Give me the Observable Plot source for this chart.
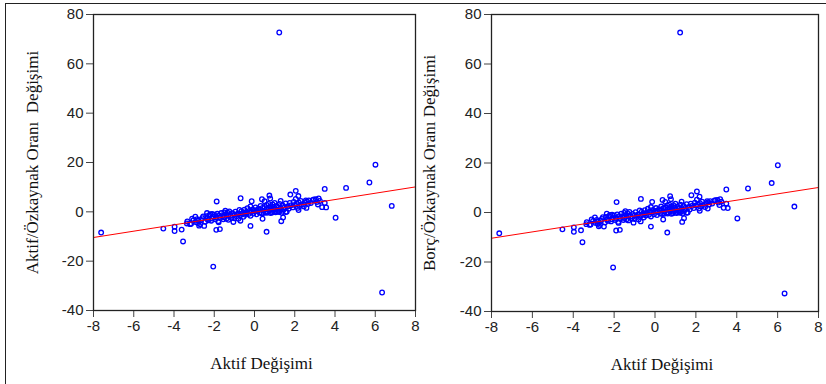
<!DOCTYPE html>
<html><head><meta charset="utf-8">
<script src="https://cdn.jsdelivr.net/npm/d3@7"></script>
<script src="https://cdn.jsdelivr.net/npm/@observablehq/plot@0.6"></script>
<style>
body{margin:0;background:#fff;}
#wrap{position:relative;width:826px;height:384px;overflow:hidden;background:#fff;}
#border{position:absolute;left:5px;top:3px;width:900px;height:500px;border-top:1.5px solid #222;border-left:1.5px solid #222;}
.panel{position:absolute;top:0;}
.panel svg{overflow:visible;}
.panel text{white-space:pre;}
</style>
</head><body>
<div id="wrap"><div id="border"></div><div id="p1" class="panel" style="left:0px"></div><div id="p2" class="panel" style="left:410px"></div></div>
<script>
// Aktif Değişimi (x) and Oran Değişimi (y)
const aktifDegisimi = [
-7.62,-4.53,-3.97,-3.97,-3.62,-3.55,-2.05,-3.34,-3.2,-3.15,-2.94,-1.88,-1.9,-1.72,-0.69,-0.14,-0.2,0.4,0.6,0.74,0.37,1.78,2.05,2.18,1.33,1.42,3.49,4.55,5.71,6.01,6.82,4.03,3.56,3.36,3.49,3.19,2.95,3.05,2.61,2.58,2.19,1.23,6.34,
-2.78,-2.7,-2.75,-2.8,-2.6,-2.5,-2.36,-2.3,-2.2,-2.1,-3.03,-2.9,-3.36,
-2.0,-1.95,-1.9,-1.85,-1.8,-1.78,-1.75,-1.7,-1.65,-1.6,-1.55,-1.5,-1.5,-1.45,-1.4,-1.4,-1.35,-1.3,-1.3,-1.25,-1.2,-1.15,-1.1,-1.05,-1.0,-1.0,-0.95,-0.9,-0.85,-0.8,-0.8,-0.75,-0.7,-0.7,-0.65,-0.6,-0.55,-0.5,-0.5,-0.45,-0.4,-0.35,-0.3,-0.25,-0.2,-0.2,-0.15,-0.1,-0.05,0.0,0.05,0.1,0.1,0.15,0.2,0.25,0.3,0.3,0.35,0.4,0.45,0.5,0.5,0.55,0.6,0.6,0.65,0.7,0.7,0.75,0.78,0.8,0.8,0.85,0.9,0.9,0.95,1.0,1.0,1.05,1.1,1.15,1.2,1.2,1.25,1.3,1.3,1.35,1.4,1.45,1.5,1.55,1.6,1.65,1.7,1.75,1.8,1.9,1.95,2.0,2.05,2.1,2.15,2.2,2.25,2.3,2.35,2.45,2.5,2.55,2.65,2.7,2.8,2.9,3.1,3.25,3.15,
-2.45,-2.4,-2.35,-2.25,-2.15,-2.1,-2.05,-2.65,-2.55,-2.85,-3.1,
0.45,0.62,0.88,1.12,1.22,1.38,1.55
];
const oranDegisimi = [
-8.4,-6.8,-6.0,-7.8,-7.2,-12.0,-22.2,-3.9,-5.0,-4.8,-2.0,4.2,-7.3,-7.0,5.5,4.3,-5.7,-2.8,-8.1,6.6,5.1,7.0,8.5,6.4,-3.8,-2.3,9.3,9.7,11.9,19.1,2.4,-2.4,1.8,1.9,3.6,5.4,5.0,5.1,4.2,1.6,0.7,72.7,-32.7,
-3.6,-5.0,-5.6,-4.5,-2.6,-5.7,-0.5,-3.4,-1.0,-2.7,-3.4,-4.2,-4.7,
-1.2,-3.0,-2.2,-0.8,-3.8,-4.2,-1.5,-2.5,-0.5,-1.8,-3.0,-0.2,-2.2,0.5,-1.0,-2.8,-0.3,-1.6,-3.2,0.2,-1.6,-2.4,-0.6,-4.1,-1.2,-2.6,0.1,-1.8,-0.9,-0.7,-2.8,0.8,-3.6,-1.4,0.3,-0.8,-2.0,0.9,-0.4,-1.2,-0.1,1.5,-0.9,0.4,2.2,-1.6,0.0,1.0,-0.7,0.5,1.8,0.7,-1.0,0.2,1.3,-0.3,0.9,2.4,-0.6,1.6,0.4,4.3,2.0,-0.2,1.1,2.8,0.0,1.8,3.2,0.6,5.4,2.3,-0.5,1.4,3.0,0.3,2.0,1.0,3.6,-0.2,2.4,0.8,1.8,0.2,3.2,1.2,4.4,-0.4,2.6,0.9,1.9,3.4,0.0,2.2,1.2,3.6,2.6,1.8,4.0,2.8,5.2,3.2,1.6,3.8,2.4,4.4,3.0,2.2,3.8,4.6,3.2,4.6,3.6,4.8,4.0,4.4,3.0,
-4.0,-1.8,-2.9,-1.5,-3.6,-0.9,-2.0,-3.3,-1.9,-3.0,-2.8,
-0.5,-0.4,-0.3,0.1,-0.1,0.4,-0.1
];
// fitted regression line end points
const lineX = [-8, 8];
const lineY = [-10.4, 10.1];
const xTicks = [-8, -6, -4, -2, 0, 2, 4, 6, 8];
const yTicks = [-40, -20, 0, 20, 40, 60, 80];
const xTitle = "Aktif Değişimi";
const yTitles = ["Aktif/Özkaynak Oranı  Değişimi", "Borç/Özkaynak Oranı Değişimi"];

const points = aktifDegisimi.map((x, i) => ({x, y: oranDegisimi[i]}));
const lineRows = lineX.map((x, i) => ({x, y: lineY[i]}));

function panel(w, ml, mr, mb, ylabel, dxX, dxY) {
  return Plot.plot({
    width: w, height: 384,
    marginLeft: ml, marginRight: mr, marginTop: 14, marginBottom: mb,
    x: {domain: [-8, 8]},
    y: {domain: [-40, 80]},
    style: {fontFamily: "'Liberation Sans', Arial, sans-serif", fontSize: "15px", color: "#222", background: "transparent"},
    marks: [
      Plot.axisX({ticks: xTicks, tickSize: 7, tickPadding: 3, label: null, stroke: "#444", tickFormat: d => String(d), fontSize: 15}),
      Plot.axisY({ticks: yTicks, tickSize: 7, tickPadding: 3, label: null, stroke: "#444", tickFormat: d => String(d), fontSize: 15}),
      Plot.dot(points, {x: "x", y: "y", r: 2.3, stroke: "#0000ff", strokeWidth: 1.3, fill: "none"}),
      Plot.line(lineRows, {x: "x", y: "y", stroke: "#ff0000", strokeWidth: 1}),
      Plot.frame({stroke: "#222", strokeWidth: 1.3}),
      Plot.text([xTitle], {text: d => d, frameAnchor: "bottom", dy: 58, dx: dxX, lineAnchor: "bottom", textAnchor: "middle", fontFamily: "'Liberation Serif', 'Times New Roman', serif", fontSize: 17, fill: "#111"}),
      Plot.text([ylabel], {text: d => d, frameAnchor: "left", dx: dxY, rotate: -90, lineAnchor: "middle", textAnchor: "middle", fontFamily: "'Liberation Serif', 'Times New Roman', serif", fontSize: 17, fill: "#111"})
    ]
  });
}

document.getElementById("p1").append(panel(420, 93, 5, 74, yTitles[0], 7, -61));
document.getElementById("p2").append(panel(416, 81, 8, 73, yTitles[1], 7, -62));
</script>
</body></html>
